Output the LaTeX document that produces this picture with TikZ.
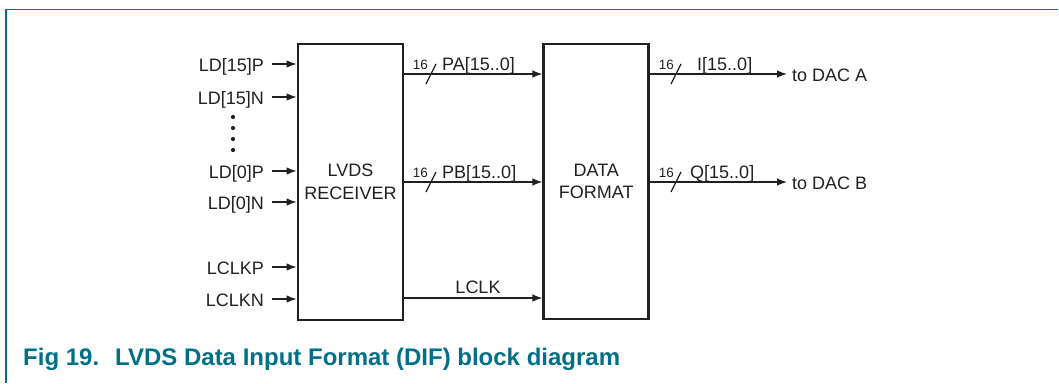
\documentclass[tikz,border=0pt]{standalone}
\usepackage{fontspec}
\setmainfont{Liberation Sans}
\usetikzlibrary{calc}
\usetikzlibrary{arrows.meta}

\definecolor{capteal}{RGB}{0,112,134}
\definecolor{ink}{RGB}{35,31,32}

\begin{document}
\begin{tikzpicture}[x=1pt,y=-1pt,
  every node/.style={inner sep=0pt, text=ink},
  lbl/.style={font=\fontsize{18}{22.5}\selectfont},
  small/.style={font=\fontsize{13.5}{15}\selectfont},
  blk/.style={draw=ink, line width=2.7pt, align=center, font=\fontsize{18}{22.5}\selectfont},
  sig/.style={draw=ink, line width=1.3pt, -{Latex[length=10pt,width=7.5pt]}},
  figcap/.style={anchor=base west, text=capteal, font=\bfseries\fontsize{24}{28}\selectfont}]

\useasboundingbox (0,0) rectangle (1059,383);

% frame and caption
\draw[capteal, line width=1.4pt] (6,383)--(6,9.5)--(1058,9.5);
\node[figcap] (fig) at (23,365) {Fig 19.};
\node[figcap] (title) at (115,365) {LVDS Data Input Format (DIF) block diagram};

% blocks
\node[blk, minimum width=105pt, minimum height=276pt] (rec) at (350.5,182) {LVDS\\RECEIVER};
\node[blk, minimum width=105pt, minimum height=275pt] (fmt) at (596.3,181.5) {DATA\\FORMAT};

% inputs
\foreach \y/\txt/\nm in {64/LD[15]P/a, 97/LD[15]N/b, 171/LD[0]P/c, 202/LD[0]N/d, 267/LCLKP/e, 299/LCLKN/f}{
	\node[lbl, anchor=base east] (lab\nm) at (264,\y+7) {\txt};
	\coordinate (in\nm) at (272,\y);
	\draw[sig] (in\nm) -- (in\nm -| rec.west);
}
\foreach \y in {117,128,139,150}{
	\fill[ink] (233,\y) circle (2.1pt);
}

% buses between the blocks
\coordinate (pa) at (0,74);
\coordinate (pb) at (0,182);
\coordinate (clk) at (0,298);
\draw[sig] (rec.east |- pa) -- (fmt.west |- pa);
\draw[sig] (rec.east |- pb) -- (fmt.west |- pb);
\draw[sig] (rec.east |- clk) -- (fmt.west |- clk);
\node[small, anchor=base east] (wa) at (428,69) {16};
\node[small, anchor=base east] (wb) at (428,177) {16};
\node[lbl, anchor=base west] (npa) at (442,70) {PA[15..0]};
\node[lbl, anchor=base west] (npb) at (442,178) {PB[15..0]};
\node[lbl, anchor=base] (nclk) at (478,293) {LCLK};

% outputs
\coordinate (outa) at (787,74);
\coordinate (outb) at (787,182);
\draw[sig] (fmt.east |- outa) -- (outa);
\draw[sig] (fmt.east |- outb) -- (outb);
\node[lbl, anchor=base west] (daca) at (792,81) {to DAC A};
\node[lbl, anchor=base west] (dacb) at (792,189) {to DAC B};
\node[small, anchor=base east] (wi) at (674,69) {16};
\node[small, anchor=base east] (wq) at (674,177) {16};
\node[lbl, anchor=base west] (ni) at (697,70) {I[15..0]};
\node[lbl, anchor=base west] (nq) at (690,178) {Q[15..0]};

% bus width ticks
\foreach \x/\y in {431/74, 431/182, 676/74, 676/182}{
	\draw[ink, line width=1.2pt] (\x,\y) ++(-5,10) -- ++(10,-20);
}

\end{tikzpicture}
\end{document}
